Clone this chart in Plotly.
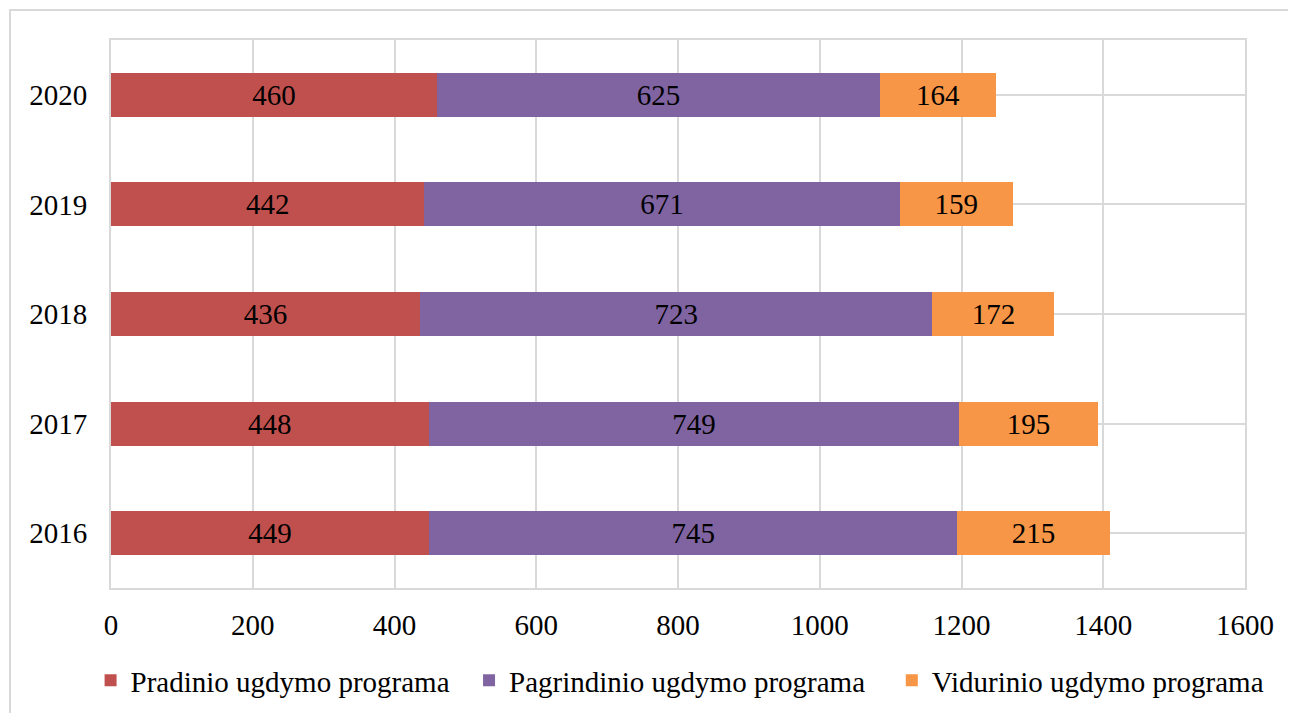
import plotly.graph_objects as go

years = ["2016", "2017", "2018", "2019", "2020"]
pradinio = [449, 448, 436, 442, 460]
pagrindinio = [745, 749, 723, 671, 625]
vidurinio = [215, 195, 172, 159, 164]
series_names = ["Pradinio ugdymo programa", "Pagrindinio ugdymo programa", "Vidurinio ugdymo programa"]
legend_pad = ["\u00a0\u00a0", "\u00a0\u00a0\u00a0", ""]
colors = ["#C0504D", "#8064A2", "#F79646"]
x_ticks = [0, 200, 400, 600, 800, 1000, 1200, 1400, 1600]

FONT = "Liberation Serif, Times New Roman, serif"
FS = 29

fig = go.Figure()
for name, pad, vals, col in zip(series_names, legend_pad, [pradinio, pagrindinio, vidurinio], colors):
    fig.add_trace(go.Bar(
        y=years, x=vals, name=name + pad, orientation="h",
        marker=dict(color=col, line=dict(width=0)),
        text=[str(v) for v in vals], textposition="inside",
        insidetextanchor="middle",
        textfont=dict(family=FONT, size=FS, color="black"),
        constraintext="none",
    ))

fig.update_layout(
    width=1296, height=713,
    barmode="stack", bargap=0.6,
    margin=dict(l=103, r=59, t=32, b=133, autoexpand=False),
    paper_bgcolor="white", plot_bgcolor="white",
    font=dict(family=FONT, size=FS, color="black"),
    legend=dict(orientation="h", x=-0.018, xanchor="left", y=-0.122, yanchor="top",
                font=dict(family=FONT, size=FS, color="black"),
                itemwidth=30, tracegroupgap=0, traceorder="normal"),
    xaxis=dict(range=[0, 1600], tickvals=x_ticks, showgrid=True, gridcolor="#d9d9d9", gridwidth=2,
               showline=True, linecolor="#d9d9d9", linewidth=2, mirror=True, zeroline=False,
               ticks="", ticklabelstandoff=10, tickfont=dict(family=FONT, size=FS, color="black")),
    yaxis=dict(categoryorder="array", categoryarray=years, showgrid=True, gridcolor="#d9d9d9", gridwidth=2,
               showline=True, linecolor="#d9d9d9", linewidth=2, mirror=True,
               ticks="", ticklabelstandoff=16, tickfont=dict(family=FONT, size=FS, color="black")),
    shapes=[dict(type="rect", xref="paper", yref="paper",
                 x0=-101/1134, x1=1.2, y0=-1.2, y1=1 + 30/548,
                 line=dict(color="#d9d9d9", width=2), layer="below")],
    annotations=[dict(text="ugdymo programa", xref="paper", yref="paper",
                      x=-97/1134, y=1 + 32/548, xanchor="left", yanchor="bottom",
                      showarrow=False, font=dict(family=FONT, size=FS, color="black"))],
)

fig.write_html("out.html")
